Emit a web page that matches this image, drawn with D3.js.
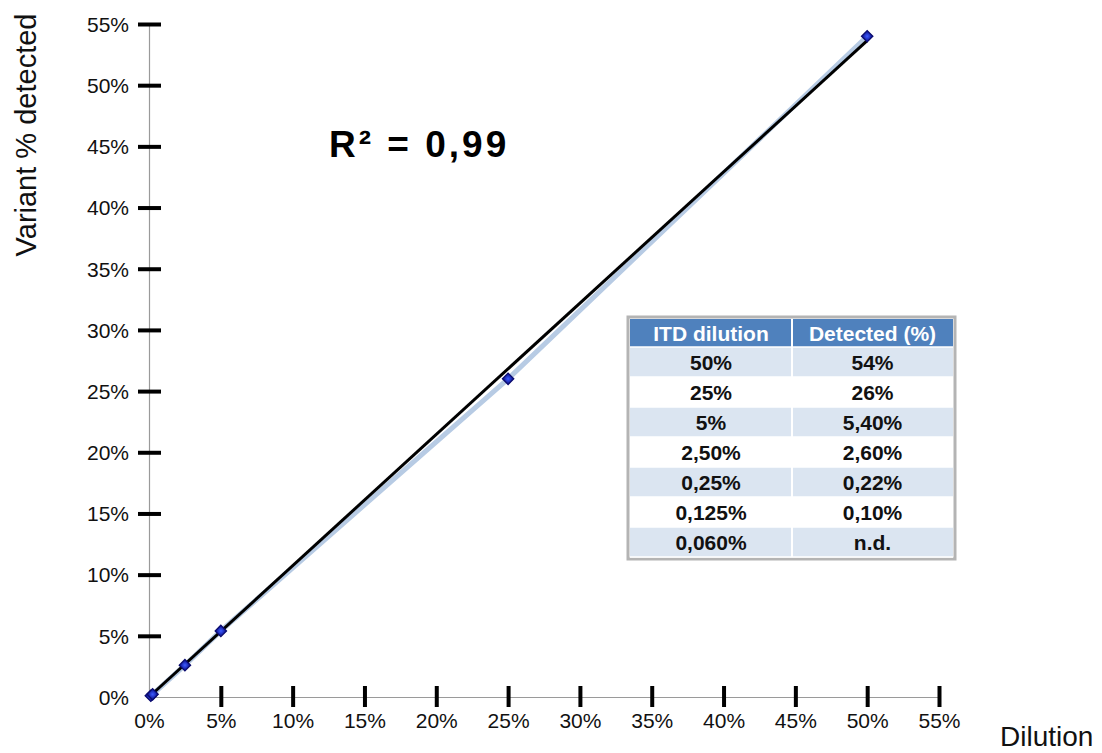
<!DOCTYPE html>
<html>
<head>
<meta charset="utf-8">
<script src="https://cdn.jsdelivr.net/npm/d3@7"></script>
<style>
  html, body { margin: 0; padding: 0; background: #fff; }
  svg { display: block; font-family: "Liberation Sans", Arial, Helvetica, sans-serif; }
</style>
</head>
<body>
<svg id="chart" width="1102" height="753"></svg>
<script>
// Dilution series (percent) and detected variant fraction (percent)
const dilution = [50, 25, 5, 2.5, 0.25, 0.125];
const detected = [54, 26, 5.4, 2.6, 0.22, 0.10];

// Axis ticks
const tickValues = [0, 5, 10, 15, 20, 25, 30, 35, 40, 45, 50, 55];

// Table contents
const tableHeader = ["ITD dilution", "Detected (%)"];
const tableDilution = ["50%", "25%", "5%", "2,50%", "0,25%", "0,125%", "0,060%"];
const tableDetected = ["54%", "26%", "5,40%", "2,60%", "0,22%", "0,10%", "n.d."];

const r2Label = "R\u00B2 = 0,99";

const svg = d3.select("#chart");

const x = d3.scaleLinear().domain([0, 55]).range([149, 939]);
const y = d3.scaleLinear().domain([0, 55]).range([697, 24]);

// Y axis
const gy = svg.append("g")
  .attr("transform", `translate(${x(0)},0)`)
  .call(d3.axisLeft(y).tickValues(tickValues).tickFormat(d => d + "%").tickSize(0).tickPadding(20));
gy.select(".domain").attr("stroke", "#9a9a9a").attr("stroke-width", 1.2);
gy.selectAll(".tick text").attr("font-size", 21).attr("fill", "#111").attr("dy", "0.35em");
gy.selectAll(".tick").filter(d => d !== 0).append("line")
  .attr("x1", -11).attr("x2", 12).attr("stroke", "#000").attr("stroke-width", 4);

// X axis
const gx = svg.append("g")
  .attr("transform", `translate(0,${y(0)})`)
  .call(d3.axisBottom(x).tickValues(tickValues).tickFormat(d => d + "%").tickSize(0).tickPadding(16));
gx.select(".domain").attr("stroke", "#9a9a9a").attr("stroke-width", 1.2);
gx.selectAll(".tick text").attr("font-size", 21).attr("fill", "#111").attr("dy", "0.71em");
gx.selectAll(".tick").filter(d => d !== 0).append("line")
  .attr("y1", -11).attr("y2", 10).attr("stroke", "#000").attr("stroke-width", 4);

// Axis titles
svg.append("text")
  .attr("transform", `translate(36,135) rotate(-90)`)
  .attr("text-anchor", "middle")
  .attr("font-size", 29)
  .attr("fill", "#111")
  .text("Variant % detected");

svg.append("text")
  .attr("x", 1000).attr("y", 746)
  .attr("font-size", 28)
  .attr("fill", "#111")
  .text("Dilution");

// Connected series line
const pts = dilution.map((d, i) => ({ x: d, y: detected[i] })).sort((a, b) => a.x - b.x);
svg.append("path")
  .datum(pts)
  .attr("fill", "none")
  .attr("stroke", "#b7cbe4")
  .attr("stroke-width", 5)
  .attr("d", d3.line().x(d => x(d.x)).y(d => y(d.y)));

// Least-squares trend line
const mx = d3.mean(dilution), my = d3.mean(detected);
const slope = d3.sum(dilution, (d, i) => (d - mx) * (detected[i] - my)) /
              d3.sum(dilution, d => (d - mx) * (d - mx));
const intercept = my - slope * mx;
svg.append("line")
  .attr("x1", x(0)).attr("y1", y(Math.max(0, intercept)))
  .attr("x2", x(50)).attr("y2", y(intercept + slope * 50))
  .attr("stroke", "#000").attr("stroke-width", 3);

// Markers
const grad = svg.append("defs").append("radialGradient").attr("id", "mk");
grad.append("stop").attr("offset", "0%").attr("stop-color", "#3f5cff");
grad.append("stop").attr("offset", "100%").attr("stop-color", "#1420a8");
svg.append("g").selectAll("path")
  .data(pts)
  .join("path")
  .attr("transform", d => `translate(${x(d.x)},${y(d.y)}) rotate(45)`)
  .attr("d", "M-4,-4H4V4H-4Z")
  .attr("fill", "url(#mk)")
  .attr("stroke", "#0b0b6e")
  .attr("stroke-width", 1.3);

// R² annotation
svg.append("text")
  .attr("x", 329).attr("y", 157)
  .attr("font-size", 37)
  .attr("font-weight", "bold")
  .attr("letter-spacing", 3)
  .attr("fill", "#000")
  .text(r2Label);

// Data table
const tbl = { left: 630, top: 319, colSplit: 792, right: 953, headerH: 28, rowH: 30 };
const tg = svg.append("g");
const rowsN = tableDilution.length;
const tblBottom = tbl.top + tbl.headerH + rowsN * tbl.rowH;
tg.append("rect")
  .attr("x", tbl.left - 2).attr("y", tbl.top - 2)
  .attr("width", tbl.right - tbl.left + 4).attr("height", tblBottom - tbl.top + 4)
  .attr("fill", "#fff").attr("stroke", "#b4b4b4").attr("stroke-width", 3);
tg.append("rect")
  .attr("x", tbl.left).attr("y", tbl.top)
  .attr("width", tbl.right - tbl.left).attr("height", tbl.headerH)
  .attr("fill", "#4f81bd");
tableDilution.forEach((d, i) => {
  tg.append("rect")
    .attr("x", tbl.left).attr("y", tbl.top + tbl.headerH + i * tbl.rowH)
    .attr("width", tbl.right - tbl.left).attr("height", tbl.rowH)
    .attr("fill", i % 2 === 0 ? "#dbe5f1" : "#ffffff");
});
// cell separators
for (let i = 0; i <= rowsN; i++) {
  tg.append("line")
    .attr("x1", tbl.left).attr("x2", tbl.right)
    .attr("y1", tbl.top + tbl.headerH + i * tbl.rowH).attr("y2", tbl.top + tbl.headerH + i * tbl.rowH)
    .attr("stroke", "#fff").attr("stroke-width", 1.5);
}
tg.append("line")
  .attr("x1", tbl.colSplit).attr("x2", tbl.colSplit)
  .attr("y1", tbl.top).attr("y2", tblBottom)
  .attr("stroke", "#fff").attr("stroke-width", 2);

const c1 = (tbl.left + tbl.colSplit) / 2, c2 = (tbl.colSplit + tbl.right) / 2;
tableHeader.forEach((h, j) => {
  tg.append("text")
    .attr("x", j === 0 ? c1 : c2).attr("y", tbl.top + tbl.headerH / 2 + 7.5)
    .attr("text-anchor", "middle").attr("font-size", 21).attr("font-weight", "bold")
    .attr("fill", "#fff").text(h);
});
tableDilution.forEach((d, i) => {
  const cy = tbl.top + tbl.headerH + i * tbl.rowH + tbl.rowH / 2 + 7.5;
  tg.append("text").attr("x", c1).attr("y", cy)
    .attr("text-anchor", "middle").attr("font-size", 21).attr("font-weight", "bold")
    .attr("fill", "#111").text(d);
  tg.append("text").attr("x", c2).attr("y", cy)
    .attr("text-anchor", "middle").attr("font-size", 21).attr("font-weight", "bold")
    .attr("fill", "#111").text(tableDetected[i]);
});
</script>
</body>
</html>
